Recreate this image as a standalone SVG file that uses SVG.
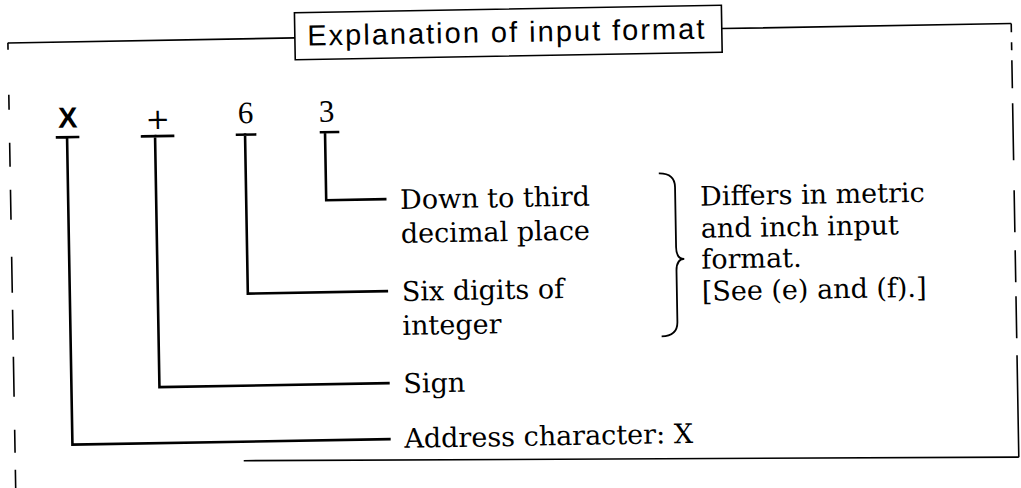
<svg xmlns="http://www.w3.org/2000/svg" width="1021" height="488" viewBox="0 0 1021 488">
<style>
.frame{stroke:#000;stroke-width:1.6;fill:none}
.conn{stroke:#000;stroke-width:2.6;fill:none;stroke-linecap:square}
.brace{stroke:#000;stroke-width:1.8;fill:none}
.lbl{font-family:"DejaVu Serif","Liberation Serif",serif;font-size:27px;fill:#000}
.dig{font-family:"Liberation Serif",serif;font-size:31px;fill:#000;text-anchor:middle}
.sans{font-family:"Liberation Sans",Arial,sans-serif;fill:#000}
</style>
<rect width="1021" height="488" fill="#fff"/>
<g transform="rotate(-1 510 244)">
  <g id="frame">
    <path class="frame" d="M11.5,34.2 H298.5 M725.5,32.3 H1015"/>
    <path class="frame" d="M11.5,34 V41 M11.5,86 V101 M11.5,134 V158 M11.5,181 V211 M11.5,248 V284 M11.5,301 V331 M11.5,348 V388 M11.5,421 V444 M11.5,461 V500"/>
    <path class="frame" d="M1015,32.3 V41 M1015,51 V59 M1015,69 V97 M1015,112 V169 M1015,199 V241 M1015,259 V291 M1015,305 V347 M1015,364 V466"/>
    <path class="frame" d="M240,456 L1015,466"/>
  </g>
  <g id="title">
    <rect class="frame" x="298.5" y="9" width="427" height="47"/>
    <text class="sans" x="311" y="42" font-size="29" textLength="397" lengthAdjust="spacing">Explanation of input format</text>
  </g>
  <g id="char-x">
    <text class="sans" x="70" y="120" font-size="29" font-weight="bold" text-anchor="middle">X</text>
  </g>
  <g id="char-sign">
    <text x="160" y="123" font-family="DejaVu Serif, serif" font-size="29" text-anchor="middle">+</text>
  </g>
  <g id="char-6">
    <text class="dig" x="248" y="118.5">6</text>
  </g>
  <g id="char-3">
    <text class="dig" x="329" y="118.5">3</text>
  </g>
  <g id="connectors">
    <path class="conn" d="M59,129.5 H80 M69,129.5 V437 H386"/>
    <path class="conn" d="M144,130 H175 M157,130 V381 H386"/>
    <path class="conn" d="M239,130 H257 M247,130 V289 H386"/>
    <path class="conn" d="M323,129 H340 M327,129 V197 H386"/>
  </g>
  <g id="label-decimal">
    <text class="lbl" x="401" y="207">Down to third</text>
    <text class="lbl" x="401" y="241">decimal place</text>
  </g>
  <g id="label-integer">
    <text class="lbl" x="401" y="299">Six digits of</text>
    <text class="lbl" x="401" y="333">integer</text>
  </g>
  <g id="label-sign">
    <text class="lbl" x="401" y="391">Sign</text>
  </g>
  <g id="label-address">
    <text class="lbl" x="401" y="446">Address character: X</text>
  </g>
  <g id="brace">
    <path class="brace" d="M660,176 Q676,176 676,190 L676,250 Q676,262 684,262 Q676,262 676,274 L676,325 Q676,339 660,339"/>
  </g>
  <g id="note">
    <text class="lbl" x="701" y="209">Differs in metric</text>
    <text class="lbl" x="701" y="241">and inch input</text>
    <text class="lbl" x="701" y="272">format.</text>
    <text class="lbl" x="701" y="304">[See (e) and (f).]</text>
  </g>
</g>
</svg>
